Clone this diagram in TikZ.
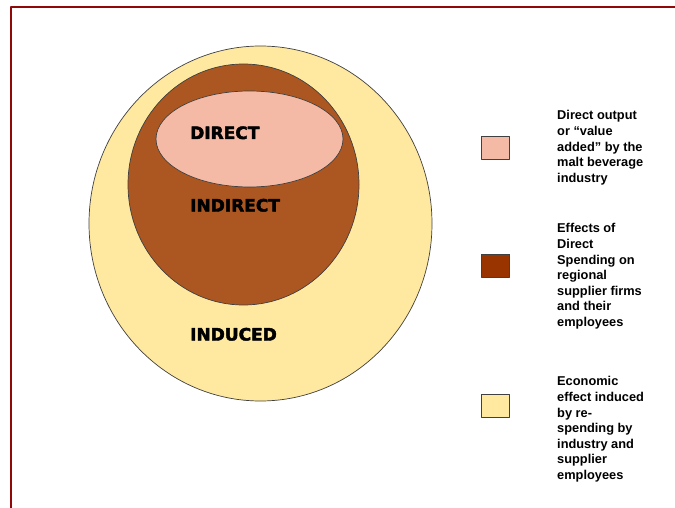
\documentclass[tikz,border=0pt]{standalone}
\usepackage{fontspec}
\setmainfont{Liberation Sans}
\newfontfamily\heavyfont{DejaVu Sans}[BoldFeatures={FakeBold=2.5}]
\usepackage{xcolor}
\definecolor{framered}{RGB}{145,8,8}
\definecolor{induced}{RGB}{255,233,160}
\definecolor{indirect}{RGB}{172,87,33}
\definecolor{direct}{RGB}{245,186,166}
\definecolor{keybrown}{RGB}{153,51,0}

\begin{document}
\begin{tikzpicture}[x=1pt,y=-1pt,line join=round,
  ring/.style={draw=black!75,line width=0.7pt},
  bigtag/.style={anchor=base west,inner sep=0pt,font=\heavyfont\bfseries\fontsize{17}{20}\selectfont},
  keybox/.style={draw=black!75,line width=0.7pt,minimum width=28pt,minimum height=23pt,inner sep=0pt},
  keytext/.style={anchor=north west,align=left,inner sep=0pt,font=\bfseries\fontsize{12.8}{15.6}\selectfont}]
\useasboundingbox (0,0) rectangle (675,508);
% frame
\draw[framered,line width=2pt] (11,508) -- (11,7) -- (675,7);
% nested circles
\filldraw[ring,fill=induced] (260.5,223.5) ellipse [x radius=171.5pt,y radius=177.5pt];
\filldraw[ring,fill=indirect] (243.5,184.5) ellipse [x radius=115.5pt,y radius=120.5pt];
\filldraw[ring,fill=direct] (249.5,139) ellipse [x radius=93.5pt,y radius=48pt];
\node[bigtag] (tagdirect) at (190,139) {DIRECT};
\node[bigtag] (tagindirect) at (190,211.5) {INDIRECT};
\node[bigtag] (taginduced) at (190,340.5) {INDUCED};
% key
\node[keybox,fill=direct] (keydirect) at (495.5,148) {};
\node[keybox,fill=keybrown] (keyindirect) at (495.5,265.5) {};
\node[keybox,fill=induced] (keyinduced) at (495.5,405.5) {};
\node[keytext] (txtdirect) at (557,110.5) {Direct output\\or “value\\added” by the\\malt beverage\\industry};
\node[keytext] (txtindirect) at (557,223.5) {Effects of\\Direct\\Spending on\\regional\\supplier firms\\and their\\employees};
\node[keytext] (txtinduced) at (557,376.5) {Economic\\effect induced\\by re-\\spending by\\industry and\\supplier\\employees};
\end{tikzpicture}
\end{document}
